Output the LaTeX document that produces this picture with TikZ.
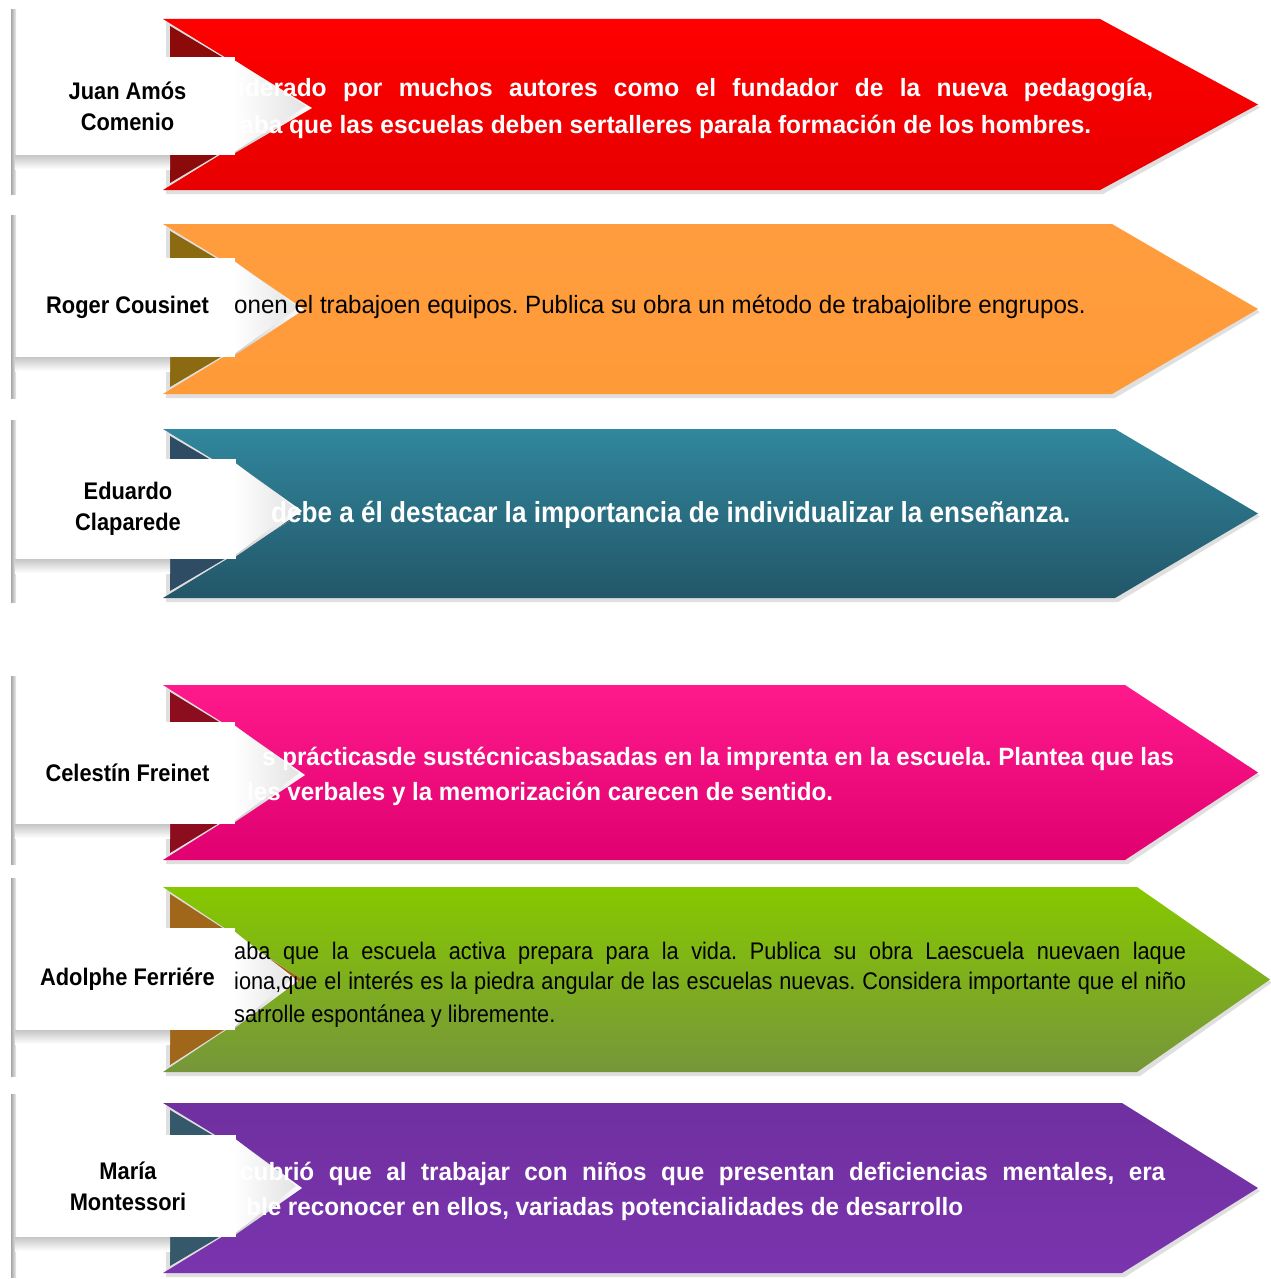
\documentclass[tikz,border=0pt]{standalone}
\usepackage{graphicx}
\usepackage{fontspec}
\setmainfont{Liberation Sans}
\frenchspacing
\definecolor{rA}{HTML}{FF0000}\definecolor{rB}{HTML}{C40000}\definecolor{rC}{HTML}{E80000}\definecolor{rW}{HTML}{8B0A0A}
\definecolor{oA}{HTML}{FF9D3E}\definecolor{oB}{HTML}{E8720E}\definecolor{oC}{HTML}{FF9A38}\definecolor{oW}{HTML}{8C6A12}
\definecolor{tA}{HTML}{31879D}\definecolor{tB}{HTML}{2E7D92}\definecolor{tC}{HTML}{235669}\definecolor{tW}{HTML}{2E4D64}
\definecolor{pA}{HTML}{FF1A8C}\definecolor{pB}{HTML}{F2107E}\definecolor{pC}{HTML}{E00070}\definecolor{pW}{HTML}{8B0D1E}
\definecolor{gA}{HTML}{86C800}\definecolor{gB}{HTML}{84C200}\definecolor{gC}{HTML}{76963A}\definecolor{gW}{HTML}{A0661A}
\definecolor{vA}{HTML}{7030A0}\definecolor{vB}{HTML}{8A3CC0}\definecolor{vC}{HTML}{7A34AE}\definecolor{vW}{HTML}{35586A}
\tikzset{
  labelbox/.style={fill=white, inner sep=0pt, minimum width=215pt, align=center, font=\bfseries\fontsize{24}{31}\selectfont, text=black},
  wtext/.style={anchor=base west, inner sep=0pt, text=white, font=\bfseries\fontsize{25}{30}\selectfont},
  btext/.style={anchor=base west, inner sep=0pt, text=black, font=\fontsize{25}{30}\selectfont},
}
% horizontally scaled line
\newcommand\sx[2]{\scalebox{#1}[1]{#2}}
% horizontally scaled, justified to a final width #2 (pt)
\newcommand\jx[3]{\pgfmathsetmacro\jw{#2/#1}\scalebox{#1}[1]{\makebox[\jw pt][s]{#3}}}
% label line
\newcommand\lb[1]{\scalebox{0.91}[1]{#1}}
% #1 top, #2 bottom, #3 tip start, #4 tip x, #5 colour prefix, #6 label top, #7 label bottom, #8 pointer tip x
\newcommand\myband[8]{%
  \pgfmathsetmacro\bm{(#1+#2)/2}%
  \pgfmathsetmacro\lm{(#6+#7)/2}%
  \shade[left color=gray!70, right color=gray!15] (11,#1-9) rectangle (16,#2+4);
  \fill[gray!25] (166,#1+3) -- (#3+3,#1+3) -- (#4+2,\bm+3) -- (#3+3,#2+4) -- (166,#2+4) -- cycle;
  \shade[top color=#5A, middle color=#5B, bottom color=#5C] (163,#1) -- (#3,#1) -- (#4,\bm) -- (#3,#2) -- (163,#2) -- (302,\bm) -- cycle;
  \fill[#5W] (170,#1+7) -- (302,\bm) -- (170,#2-7) -- cycle;
  \shade[top color=gray!45, bottom color=white] (15,#7) rectangle (170,#7+14);
  \shade[left color=gray!40, right color=white] (235,#6+4) -- (#8+6,\lm+2) -- (235,#7-2) -- cycle;
  \shade[left color=white, right color=gray!22] (234,#6+3) -- (#8,\lm) -- (234,#7-3) -- cycle;
}
\begin{document}
\begin{tikzpicture}[x=1pt,y=-1pt]
\useasboundingbox (0,0) rectangle (1270,1279);
\fill[white] (0,0) rectangle (1270,1279);

% Row 1
\myband{19}{190}{1100}{1258}{r}{57}{155}{306}
\node[labelbox, minimum height=98pt] (l1) at (127.5,106) {\lb{Juan Amós}\\\lb{Comenio}};
\node[wtext] (t1a) at (238,97) {\jx{0.98}{915}{iderado por muchos autores como el fundador de la nueva pedagogía,}};
\node[wtext] (t1b) at (240,133) {\sx{0.98}{aba que las escuelas deben sertalleres parala formación de los hombres.}};

% Row 2
\myband{224}{394}{1112}{1258}{o}{258}{357}{298}
\node[labelbox, minimum height=99pt] (l2) at (127.5,307.5) {\lb{Roger Cousinet}};
\node[btext] (t2a) at (234,313) {\sx{0.965}{onen el trabajoen equipos. Publica su obra un método de trabajolibre engrupos.}};

% Row 3
\myband{429}{598}{1115}{1258}{t}{459}{559}{296}
\node[labelbox, minimum height=100pt] (l3) at (128,509) {\lb{Eduardo}\\\lb{Claparede}};
\node[wtext, font=\bfseries\fontsize{29}{34}\selectfont] (t3a) at (271,522) {\sx{0.9}{debe a él destacar la importancia de individualizar la enseñanza.}};

% Row 4
\myband{685}{860}{1125}{1258}{p}{722}{824}{299}
\node[labelbox, minimum height=102pt] (l4) at (127.5,773) {\lb{Celestín Freinet}};
\node[wtext] (t4a) at (262,765) {\sx{0.965}{s prácticasde sustécnicasbasadas en la imprenta en la escuela. Plantea que las}};
\node[wtext] (t4b) at (247,800) {\sx{0.965}{les verbales y la memorización carecen de sentido.}};

% Row 5
\myband{887}{1072}{1137}{1270}{g}{928}{1030}{292}
\node[labelbox, minimum height=102pt] (l5) at (127.5,979) {\lb{Adolphe Ferriére}};
\node[btext, font=\fontsize{24}{30}\selectfont] (t5a) at (234,959) {\jx{0.905}{952}{aba que la escuela activa prepara para la vida. Publica su obra Laescuela nuevaen laque}};
\node[btext, font=\fontsize{24}{30}\selectfont] (t5b) at (234,989) {\jx{0.905}{952}{iona,que el interés es la piedra angular de las escuelas nuevas. Considera importante que el niño}};
\node[btext, font=\fontsize{24}{30}\selectfont] (t5c) at (234,1022) {\sx{0.905}{sarrolle espontánea y libremente.}};

% Row 6
\myband{1103}{1273}{1122}{1258}{v}{1135}{1237}{296}
\node[labelbox, minimum height=102pt] (l6) at (128,1186) {\lb{María}\\\lb{Montessori}};
\node[wtext] (t6a) at (240,1180) {\jx{0.97}{925}{cubrió que al trabajar con niños que presentan deficiencias mentales, era}};
\node[wtext] (t6b) at (246,1215) {\sx{0.97}{ble reconocer en ellos, variadas potencialidades de desarrollo}};
\end{tikzpicture}
\end{document}
